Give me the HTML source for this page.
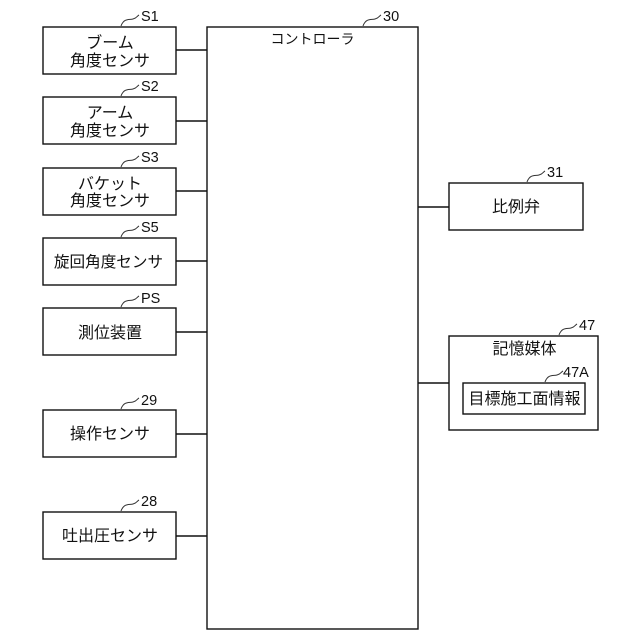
<!DOCTYPE html>
<html lang="ja"><head><meta charset="utf-8"><title>Diagram</title>
<style>html,body{margin:0;padding:0;background:#fff}svg{display:block}
text{font-family:"Liberation Sans","Noto Sans CJK JP",sans-serif;fill:#111}
.j{font-size:16px;text-anchor:middle}
.l{font-size:14.5px}
rect{fill:#fff;stroke:#111;stroke-width:1.4}
path{fill:none;stroke:#333;stroke-width:1}
line{stroke:#111;stroke-width:1.4}
</style></head><body>
<svg width="640" height="640" viewBox="0 0 640 640" xmlns="http://www.w3.org/2000/svg">
<rect x="207" y="27" width="211" height="602"/>
<rect x="43" y="27" width="133" height="47"/>
<rect x="43" y="97" width="133" height="47"/>
<rect x="43" y="168" width="133" height="47"/>
<rect x="43" y="238" width="133" height="47"/>
<rect x="43" y="308" width="133" height="47"/>
<rect x="43" y="410" width="133" height="47"/>
<rect x="43" y="512" width="133" height="47"/>
<rect x="449" y="183" width="134" height="47"/>
<rect x="449" y="336" width="149" height="94"/>
<rect x="463" y="383" width="122" height="31"/>
<line x1="176" y1="50" x2="207" y2="50"/>
<line x1="176" y1="121" x2="207" y2="121"/>
<line x1="176" y1="191" x2="207" y2="191"/>
<line x1="176" y1="261" x2="207" y2="261"/>
<line x1="176" y1="332" x2="207" y2="332"/>
<line x1="176" y1="434" x2="207" y2="434"/>
<line x1="176" y1="536" x2="207" y2="536"/>
<line x1="418" y1="207" x2="449" y2="207"/>
<line x1="418" y1="383" x2="449" y2="383"/>
<path d="M121 26c3-8 8-6 12-7s4-3 6-4"/>
<path d="M121 96c3-8 8-6 12-7s4-3 6-4"/>
<path d="M121 167c3-8 8-6 12-7s4-3 6-4"/>
<path d="M121 237c3-8 8-6 12-7s4-3 6-4"/>
<path d="M121 307c3-8 8-6 12-7s4-3 6-4"/>
<path d="M121 409c3-8 8-6 12-7s4-3 6-4"/>
<path d="M121 511c3-8 8-6 12-7s4-3 6-4"/>
<path d="M363 26c3-8 8-6 12-7s4-3 6-4"/>
<path d="M527 182c3-8 8-6 12-7s4-3 6-4"/>
<path d="M559 335c3-8 8-6 12-7s4-3 6-4"/>
<path d="M545 382c3-8 8-6 12-7s4-3 6-4"/>
<text class="l" x="141" y="21">S1</text>
<text class="l" x="141" y="91">S2</text>
<text class="l" x="141" y="162">S3</text>
<text class="l" x="141" y="232">S5</text>
<text class="l" x="141" y="303">PS</text>
<text class="l" x="141" y="405">29</text>
<text class="l" x="141" y="506">28</text>
<text class="l" x="383" y="21">30</text>
<text class="l" x="547" y="177">31</text>
<text class="l" x="579" y="330">47</text>
<text class="l" x="563" y="377">47A</text>
<text class="j" x="110" y="48">ブーム</text>
<text class="j" x="110" y="66">角度センサ</text>
<text class="j" x="110" y="118">アーム</text>
<text class="j" x="110" y="136">角度センサ</text>
<text class="j" x="110" y="189">バケット</text>
<text class="j" x="110" y="206">角度センサ</text>
<text class="j" x="108.5" y="267" style="font-size:15.6px">旋回角度センサ</text>
<text class="j" x="110" y="338">測位装置</text>
<text class="j" x="110" y="439">操作センサ</text>
<text class="j" x="110" y="541">吐出圧センサ</text>
<text class="j" x="312.5" y="44" style="font-size:14px">コントローラ</text>
<text class="j" x="516" y="212">比例弁</text>
<text class="j" x="524.5" y="354">記憶媒体</text>
<text class="j" x="524.5" y="404">目標施工面情報</text>
</svg>
</body></html>
